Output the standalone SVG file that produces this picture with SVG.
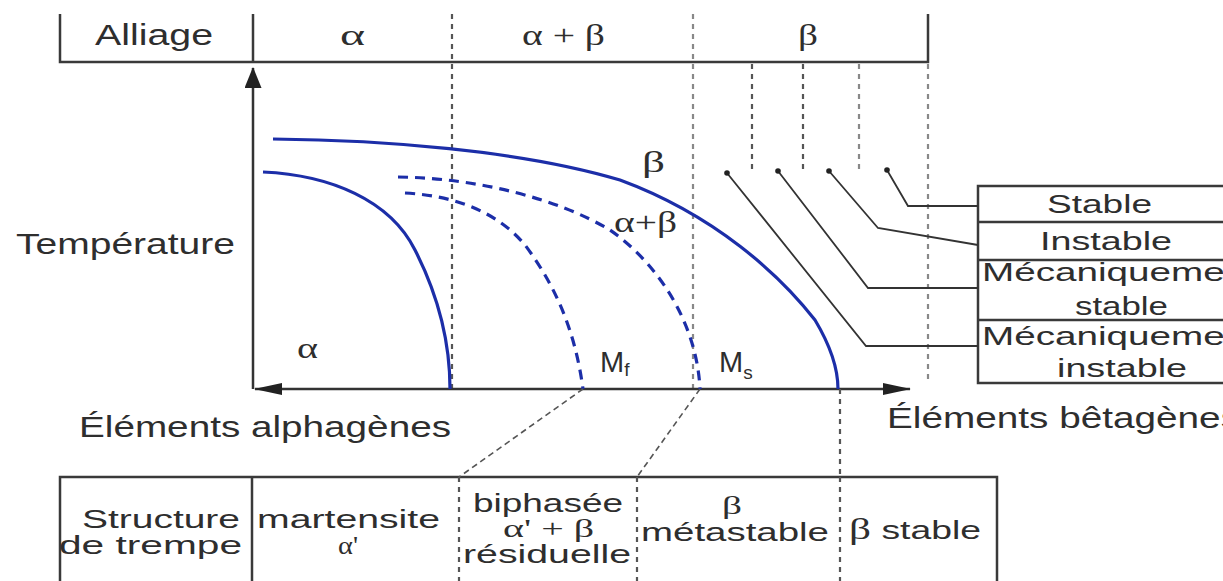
<svg xmlns="http://www.w3.org/2000/svg" width="1223" height="581" viewBox="0 0 1223 581">
  <style>
    .t { font-family: "Liberation Sans", Arial, sans-serif; font-size: 29px; fill: #2e2e2e; }
    .g { font-family: "Liberation Serif", "DejaVu Serif", serif; font-size: 29px; fill: #2e2e2e; }
    .s { font-size: 25px; }
    .frame { stroke: #3a3a3a; stroke-width: 2.5; fill: none; }
    .axis { stroke: #333; stroke-width: 2.5; fill: none; }
    .dv { stroke: #555; stroke-width: 2.2; stroke-dasharray: 5 5; fill: none; }
    .dvl { stroke: #888; stroke-width: 2.2; stroke-dasharray: 5 5; fill: none; }
    .diag { stroke: #555; stroke-width: 1.6; stroke-dasharray: 6 4; fill: none; }
    .solid { stroke: #1c2ea8; stroke-width: 3.2; fill: none; }
    .dash { stroke: #1c2ea8; stroke-width: 3.2; stroke-dasharray: 10 7; fill: none; }
    .lead { stroke: #333; stroke-width: 1.8; fill: none; }
    .dot { fill: #222; }
  </style>
  <defs>
    <marker id="ax" markerUnits="userSpaceOnUse" markerWidth="28" markerHeight="12" viewBox="0 0 28 12" refX="27" refY="6" orient="auto-start-reverse">
      <path d="M0,0 L28,6 L0,12 z" fill="#222"/>
    </marker>
    <marker id="ay" markerUnits="userSpaceOnUse" markerWidth="21" markerHeight="17" viewBox="0 0 21 17" refX="20" refY="8.5" orient="auto">
      <path d="M0,0 L21,8.5 L0,17 z" fill="#222"/>
    </marker>
  </defs>
  <rect width="1223" height="581" fill="#fff"/>

  <!-- Top table: Alliage -->
  <g id="alliage-table">
    <path class="frame" d="M60,14 V62 H928 V14"/>
    <line class="frame" x1="253" y1="14" x2="253" y2="62"/>
    <text class="t" x="95" y="45" textLength="118" lengthAdjust="spacingAndGlyphs">Alliage</text>
    <text class="g" x="340" y="45" textLength="25" lengthAdjust="spacingAndGlyphs">α</text>
    <text class="g" x="522" y="45" textLength="83" lengthAdjust="spacingAndGlyphs">α + β</text>
    <text class="g" x="798" y="45" textLength="20" lengthAdjust="spacingAndGlyphs">β</text>
  </g>

  <!-- Dashed verticals -->
  <g id="verticals">
    <line class="dv" x1="452" y1="14" x2="452" y2="389"/>
    <line class="dvl" x1="693" y1="14" x2="693" y2="389"/>
    <line class="dv" x1="752" y1="64" x2="752" y2="173"/>
    <line class="dv" x1="803" y1="64" x2="803" y2="173"/>
    <line class="dvl" x1="859" y1="64" x2="859" y2="173"/>
    <line class="dvl" x1="928" y1="64" x2="928" y2="380"/>
  </g>

  <!-- Axes -->
  <g id="axes">
    <line class="axis" x1="253" y1="389" x2="253" y2="68" marker-end="url(#ay)"/>
    <line class="axis" x1="255" y1="389" x2="910" y2="389" marker-start="url(#ax)" marker-end="url(#ax)"/>
    <text class="t" x="16" y="254" textLength="219" lengthAdjust="spacingAndGlyphs">Température</text>
    <text class="t" x="79" y="437" textLength="372" lengthAdjust="spacingAndGlyphs">Éléments alphagènes</text>
    <text class="t" x="887" y="428" textLength="353" lengthAdjust="spacingAndGlyphs">Éléments bêtagènes</text>
  </g>

  <!-- Curves -->
  <g id="curves">
    <path id="beta-transus" class="solid" d="M273,139 C380,140 520,150 620,180 C715,215 780,275 815,320 C830,345 838,370 838,389"/>
    <path id="alpha-transus" class="solid" d="M263,172 C330,175 390,200 415,250 C438,295 450,340 450,389"/>
    <path id="ms-curve" class="dash" d="M398,177 C480,178 560,200 610,230 C660,265 697,325 700,389"/>
    <path id="mf-curve" class="dash" d="M405,193 C460,196 500,215 525,245 C555,285 575,330 583,389"/>
    <text class="g" x="297" y="358" textLength="21" lengthAdjust="spacingAndGlyphs">α</text>
    <text class="g" x="642" y="172" textLength="23" lengthAdjust="spacingAndGlyphs">β</text>
    <text class="g" x="614" y="232" textLength="63" lengthAdjust="spacingAndGlyphs">α+β</text>
    <text class="t" x="600" y="372">M<tspan font-size="19" dy="4">f</tspan></text>
    <text class="t" x="719" y="372">M<tspan font-size="19" dy="7">s</tspan></text>
  </g>

  <!-- Legend boxes -->
  <g id="legend">
    <rect class="frame" x="978" y="186" width="300" height="197"/>
    <line class="frame" x1="978" y1="222" x2="1223" y2="222"/>
    <line class="frame" x1="978" y1="260" x2="1223" y2="260"/>
    <line class="frame" x1="978" y1="320" x2="1223" y2="320"/>
  </g>
  <g id="legend-stable"><text class="t s" x="1047" y="213" textLength="105" lengthAdjust="spacingAndGlyphs">Stable</text></g>
  <g id="legend-instable"><text class="t s" x="1040" y="250" textLength="132" lengthAdjust="spacingAndGlyphs">Instable</text></g>
  <g id="legend-meca-stable">
    <text class="t s" x="982" y="281" textLength="275" lengthAdjust="spacingAndGlyphs">Mécaniquement</text>
    <text class="t s" x="1075" y="315" textLength="93" lengthAdjust="spacingAndGlyphs">stable</text>
  </g>
  <g id="legend-meca-instable">
    <text class="t s" x="982" y="345" textLength="275" lengthAdjust="spacingAndGlyphs">Mécaniquement</text>
    <text class="t s" x="1057" y="377" textLength="130" lengthAdjust="spacingAndGlyphs">instable</text>
  </g>

  <!-- Bottom table -->
  <g id="structure-table">
    <path class="frame" d="M60,581 V477 H997 V581"/>
    <line class="frame" x1="252" y1="477" x2="252" y2="581"/>
    <line class="dv" x1="459" y1="477" x2="459" y2="581"/>
    <line class="dv" x1="637" y1="477" x2="637" y2="581"/>
    <line class="dv" x1="840" y1="477" x2="840" y2="581"/>
    <text class="t s" x="240" y="528" text-anchor="end" textLength="158" lengthAdjust="spacingAndGlyphs">Structure</text>
    <text class="t s" x="242" y="554" text-anchor="end" textLength="183" lengthAdjust="spacingAndGlyphs">de trempe</text>
    <text class="t s" x="257" y="528" textLength="183" lengthAdjust="spacingAndGlyphs">martensite</text>
    <text class="g s" x="338" y="554" textLength="20" lengthAdjust="spacingAndGlyphs">α'</text>
    <text class="t s" x="473" y="512" textLength="150" lengthAdjust="spacingAndGlyphs">biphasée</text>
    <text class="g s" x="503" y="537" textLength="91" lengthAdjust="spacingAndGlyphs">α' + β</text>
    <text class="t s" x="463" y="563" textLength="168" lengthAdjust="spacingAndGlyphs">résiduelle</text>
    <text class="g s" x="722" y="514" textLength="20" lengthAdjust="spacingAndGlyphs">β</text>
    <text class="t s" x="641" y="541" textLength="188" lengthAdjust="spacingAndGlyphs">métastable</text>
    <text class="t s" x="849" y="539" textLength="132" lengthAdjust="spacingAndGlyphs"><tspan class="g">β</tspan> stable</text>
  </g>

  <!-- Connectors -->
  <g id="connectors">
    <line class="diag" x1="583" y1="389" x2="459" y2="477"/>
    <line class="diag" x1="700" y1="389" x2="637" y2="477"/>
    <line class="dv" x1="840" y1="389" x2="840" y2="477"/>
    <polyline class="lead" points="727,173 866,346 978,346"/>
    <polyline class="lead" points="778,171 868,288 978,288"/>
    <polyline class="lead" points="829,171 878,228 978,245"/>
    <polyline class="lead" points="887,170 908,206 978,206"/>
    <circle class="dot" cx="727" cy="173" r="2.8"/>
    <circle class="dot" cx="778" cy="171" r="2.8"/>
    <circle class="dot" cx="829" cy="171" r="2.8"/>
    <circle class="dot" cx="887" cy="170" r="2.8"/>
  </g>
</svg>
